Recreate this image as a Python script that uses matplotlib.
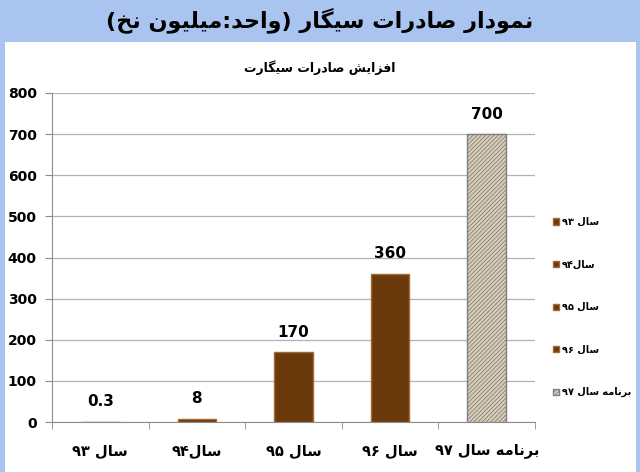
import matplotlib
matplotlib.use("Agg")
import matplotlib.pyplot as plt
from matplotlib.patches import Rectangle
import numpy as np

plt.rcParams['font.family'] = ['DejaVu Sans']
plt.rcParams['hatch.color'] = '#a89a86'
plt.rcParams['hatch.linewidth'] = 0.6

# ---------------- data ----------------
title_text = "نمودار صادرات سیگار (واحد:میلیون نخ)"
subtitle_text = "افزایش صادرات سیگارت"
categories = ["سال ۹۳", "سال۹۴", "سال ۹۵", "سال ۹۶", "برنامه سال ۹۷"]
values = [0.3, 8, 170, 360, 700]
value_labels = ["0.3", "8", "170", "360", "700"]
y_ticks = [0, 100, 200, 300, 400, 500, 600, 700, 800]

# ---------------- minimal Persian shaping + bidi ----------------
FORMS = {
    'ا': ('\uFE8D', '\uFE8E', None, None),
    'آ': ('\uFE81', '\uFE82', None, None),
    'ب': ('\uFE8F', '\uFE90', '\uFE91', '\uFE92'),
    'پ': ('\uFB56', '\uFB57', '\uFB58', '\uFB59'),
    'ت': ('\uFE95', '\uFE96', '\uFE97', '\uFE98'),
    'ث': ('\uFE99', '\uFE9A', '\uFE9B', '\uFE9C'),
    'ج': ('\uFE9D', '\uFE9E', '\uFE9F', '\uFEA0'),
    'چ': ('\uFB7A', '\uFB7B', '\uFB7C', '\uFB7D'),
    'ح': ('\uFEA1', '\uFEA2', '\uFEA3', '\uFEA4'),
    'خ': ('\uFEA5', '\uFEA6', '\uFEA7', '\uFEA8'),
    'د': ('\uFEA9', '\uFEAA', None, None),
    'ذ': ('\uFEAB', '\uFEAC', None, None),
    'ر': ('\uFEAD', '\uFEAE', None, None),
    'ز': ('\uFEAF', '\uFEB0', None, None),
    'ژ': ('\uFB8A', '\uFB8B', None, None),
    'س': ('\uFEB1', '\uFEB2', '\uFEB3', '\uFEB4'),
    'ش': ('\uFEB5', '\uFEB6', '\uFEB7', '\uFEB8'),
    'ص': ('\uFEB9', '\uFEBA', '\uFEBB', '\uFEBC'),
    'ض': ('\uFEBD', '\uFEBE', '\uFEBF', '\uFEC0'),
    'ط': ('\uFEC1', '\uFEC2', '\uFEC3', '\uFEC4'),
    'ظ': ('\uFEC5', '\uFEC6', '\uFEC7', '\uFEC8'),
    'ع': ('\uFEC9', '\uFECA', '\uFECB', '\uFECC'),
    'غ': ('\uFECD', '\uFECE', '\uFECF', '\uFED0'),
    'ف': ('\uFED1', '\uFED2', '\uFED3', '\uFED4'),
    'ق': ('\uFED5', '\uFED6', '\uFED7', '\uFED8'),
    'ک': ('\uFB8E', '\uFB8F', '\uFB90', '\uFB91'),
    'گ': ('\uFB92', '\uFB93', '\uFB94', '\uFB95'),
    'ل': ('\uFEDD', '\uFEDE', '\uFEDF', '\uFEE0'),
    'م': ('\uFEE1', '\uFEE2', '\uFEE3', '\uFEE4'),
    'ن': ('\uFEE5', '\uFEE6', '\uFEE7', '\uFEE8'),
    'و': ('\uFEED', '\uFEEE', None, None),
    'ه': ('\uFEE9', '\uFEEA', '\uFEEB', '\uFEEC'),
    'ی': ('\uFBFC', '\uFBFD', '\uFBFE', '\uFBFF'),
    'ي': ('\uFEF1', '\uFEF2', '\uFEF3', '\uFEF4'),
}


def _dual(c):
    return c in FORMS and FORMS[c][2] is not None


def shape(s):
    out = []
    n = len(s)
    for i, c in enumerate(s):
        if c not in FORMS:
            out.append(c)
            continue
        prev_join = i > 0 and _dual(s[i - 1])
        next_join = _dual(c) and i < n - 1 and s[i + 1] in FORMS
        iso, fin, ini, med = FORMS[c]
        if prev_join and next_join:
            out.append(med)
        elif prev_join:
            out.append(fin)
        elif next_join:
            out.append(ini)
        else:
            out.append(iso)
    return ''.join(out)


DIGITS = set('0123456789.۰۱۲۳۴۵۶۷۸۹')
MIRROR = {'(': ')', ')': '('}


def fa(s):
    s = shape(s)
    tokens = []
    buf = ''
    for c in s:
        if c in DIGITS:
            buf += c
        else:
            if buf:
                tokens.append(buf)
                buf = ''
            tokens.append(MIRROR.get(c, c))
    if buf:
        tokens.append(buf)
    return ''.join(reversed(tokens))


# ---------------- figure ----------------
W, H = 640, 472
fig = plt.figure(figsize=(W / 100, H / 100), dpi=100)
fig.patch.set_facecolor('#aac4f0')
fig.patches.append(Rectangle((5 / W, 0), (636 - 5) / W, 1 - 42 / H,
                             transform=fig.transFigure, facecolor='white',
                             edgecolor='none', zorder=-5))

fig.text(320 / W, 1 - 20 / H, fa(title_text), ha='center', va='center',
         fontsize=16, fontweight='bold', color='black')
fig.text(320 / W, 1 - 68 / H, fa(subtitle_text), ha='center', va='center',
         fontsize=9, fontweight='bold', color='black')

ax = fig.add_axes([52 / W, 1 - 422 / H, (535 - 52) / W, (422 - 93) / H])
ax.set_facecolor('none')

x = np.arange(len(categories))
face = ['#6b3a0c'] * 4 + ['#dccdb6']
edges = ['#a26a35'] * 4 + ['#7f7f7f']
bars = ax.bar(x, values, width=0.4, color=face, edgecolor=edges,
              linewidth=1.0, zorder=3)
bars[-1].set_hatch('////////')
for b, lab in zip(bars, categories):
    b.set_label(fa(lab))

for xi, v, lab in zip(x, values, value_labels):
    ax.annotate(lab, (xi, v), xytext=(0, 9), textcoords='offset points',
                ha='center', va='bottom', fontsize=11, fontweight='bold')

ax.set_xlim(-0.5, len(categories) - 0.5)
ax.set_ylim(0, 800)
ax.set_yticks(y_ticks)
ax.set_yticklabels([str(t) for t in y_ticks], fontsize=10, fontweight='bold')
ax.set_xticks(x)
ax.set_xticklabels([fa(c) for c in categories], fontsize=10.5, fontweight='bold')
ax.tick_params(axis='x', which='major', length=0, pad=15)
ax.set_xticks(np.arange(-0.5, len(categories)), minor=True)
ax.tick_params(axis='x', which='minor', length=5, color='#8c8c8c')
ax.tick_params(axis='y', length=5, color='#8c8c8c', pad=6)
ax.yaxis.grid(True, color='#a9b4c4', linewidth=0.9, zorder=0)
ax.set_axisbelow(True)
for sp in ['top', 'right']:
    ax.spines[sp].set_visible(False)
for sp in ['left', 'bottom']:
    ax.spines[sp].set_color('#8c8c8c')

leg = ax.legend(handles=list(bars), loc='upper left',
                bbox_to_anchor=(549 / W, 1 - 213 / H), bbox_transform=fig.transFigure,
                frameon=False, prop={'size': 7, 'weight': 'bold'},
                handlelength=0.6, handleheight=0.6, handletextpad=0.3,
                labelspacing=3.35, borderaxespad=0)

fig.savefig('out.png', dpi=100, facecolor=fig.get_facecolor())
